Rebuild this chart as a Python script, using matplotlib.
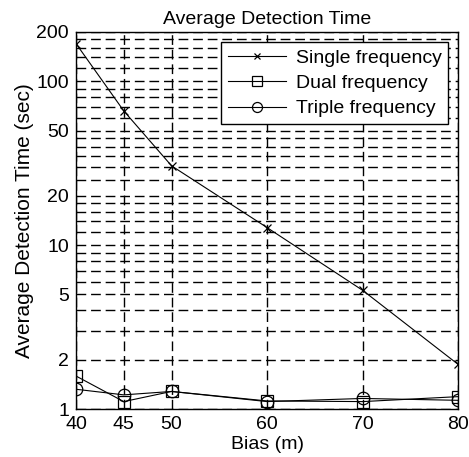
import matplotlib.pyplot as plt
import numpy as np

plt.rcParams["font.family"] = ["Liberation Sans", "DejaVu Sans"]
plt.rcParams["font.size"] = 14

# ---- data ----
bias = [40, 45, 50, 60, 70, 80]
single_freq = [170, 66, 30.5, 12.8, 5.3, 1.87]
dual_freq = [1.59, 1.11, 1.28, 1.12, 1.11, 1.19]
triple_freq = [1.32, 1.22, 1.28, 1.11, 1.16, 1.13]

y_ticks = [1, 2, 5, 10, 20, 50, 100, 200]
y_tick_labels = ["1", "2", "5", "10", "20", "50", "100", "200"]
y_minor = [3, 4, 6, 7, 8, 9, 12, 14, 16, 18, 25, 30, 35, 40, 45,
           60, 70, 80, 90, 120, 140, 160, 180]

fig = plt.figure(figsize=(4.69, 4.57), dpi=100)
ax = fig.add_axes([0.162, 0.105, 0.815, 0.825])

ax.plot(bias, single_freq, color="black", linewidth=0.8, marker="x",
        markersize=6, markeredgewidth=0.9, label="Single frequency")
ax.plot(bias, dual_freq, color="black", linewidth=0.8, marker="s",
        markersize=9, markerfacecolor="none", markeredgewidth=0.9,
        label="Dual frequency")
ax.plot(bias, triple_freq, color="black", linewidth=0.8, marker="o",
        markersize=9, markerfacecolor="none", markeredgewidth=0.9,
        label="Triple frequency")

ax.set_yscale("log")
ax.set_ylim(1, 200)
ax.set_xlim(40, 80)
ax.set_xticks(bias)
ax.set_yticks(y_ticks)
ax.set_yticklabels(y_tick_labels)
ax.set_yticks(y_minor, minor=True)
ax.yaxis.set_minor_formatter(plt.NullFormatter())
ax.tick_params(which="both", direction="in", length=0, labelsize=14)
ax.tick_params(axis="y", pad=5)
ax.tick_params(axis="x", pad=5)

dash = (0, (7, 3.5))
ax.grid(True, which="major", axis="both", color="black", linewidth=1.0,
        linestyle=dash)
ax.grid(True, which="minor", axis="y", color="black", linewidth=1.0,
        linestyle=dash)

for s in ax.spines.values():
    s.set_linewidth(1.0)

ax.set_title("Average Detection Time", fontsize=14, pad=6)
ax.set_xlabel("Bias (m)", fontsize=14)
ax.set_ylabel("Average Detection Time (sec)", fontsize=15)
ax.xaxis.set_label_coords(0.5, -0.071)
ax.yaxis.set_label_coords(-0.11, 0.5)

leg = ax.legend(loc="upper right", fontsize=14, frameon=True, fancybox=False,
                edgecolor="black", framealpha=1, handlelength=3.0,
                borderpad=0.35, labelspacing=0.4, handletextpad=0.5,
                markerscale=0.8, borderaxespad=0,
                bbox_to_anchor=(0.974, 0.973))
leg.get_frame().set_linewidth(1.0)

fig.savefig("out.png", dpi=100)
